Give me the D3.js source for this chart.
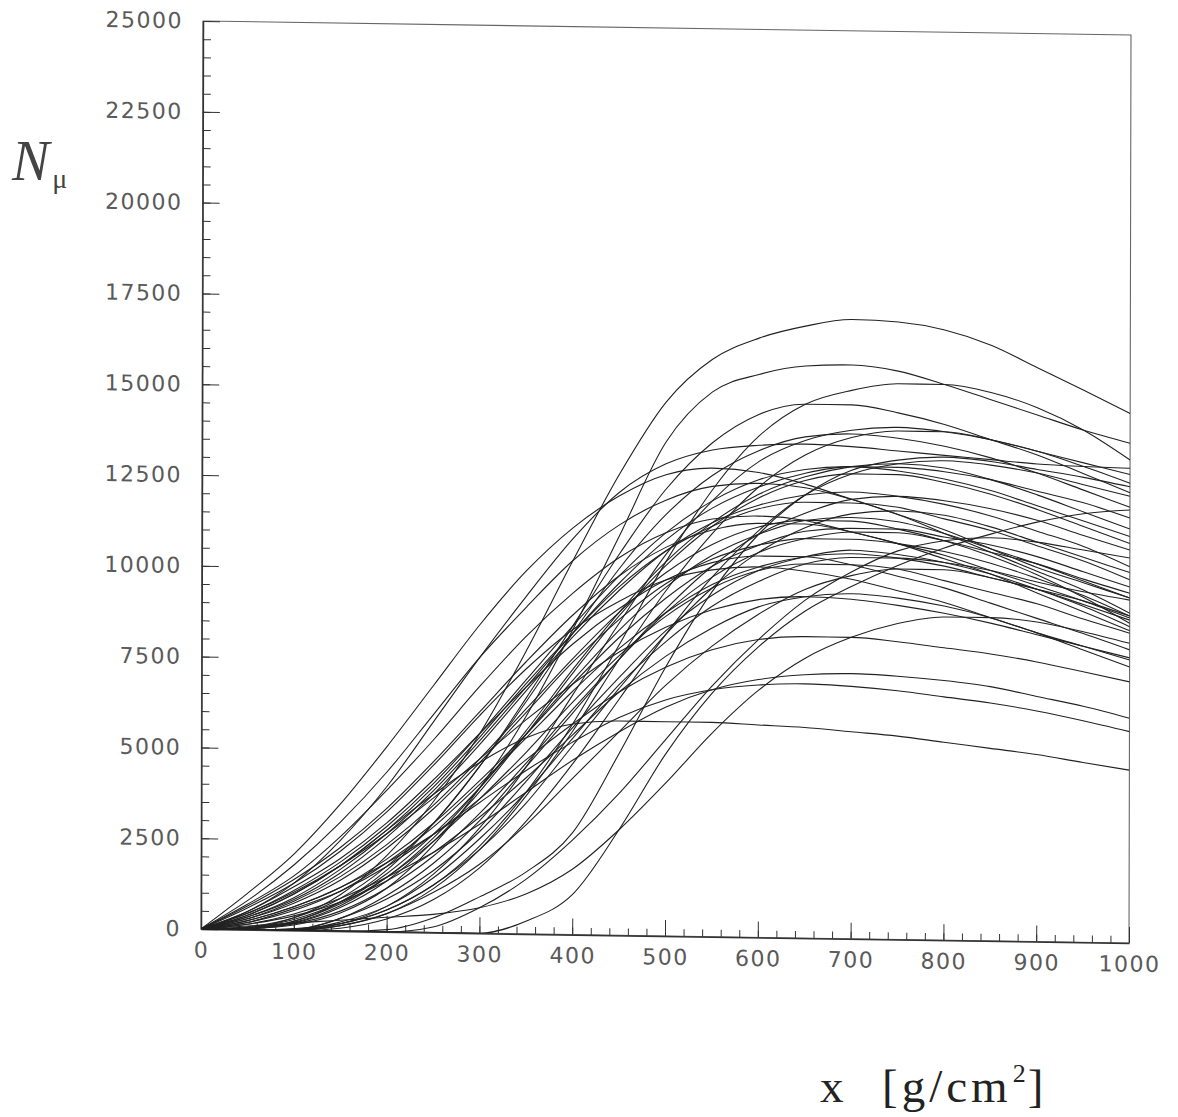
<!DOCTYPE html>
<html>
<head>
<meta charset="utf-8">
<style>
  body { margin: 0; background: #fff; }
  .tick text { font-family: "DejaVu Sans", sans-serif; font-size: 22px; fill: #5a5a5a; letter-spacing: 1.5px; }
  .axis path, .axis line { stroke: #333; }
</style>
</head>
<body>
<svg id="chart" width="1178" height="1117"></svg>
<script src="https://cdn.jsdelivr.net/npm/d3@7/dist/d3.min.js"></script>
<script>
// depth grid (g/cm^2) at which every shower is sampled
const depths = [0,50,100,150,200,250,300,350,400,450,500,550,600,650,700,750,800,850,900,950,1000];

// showers starting right at the origin with a steep rise
const earlyShowers = [
  [0,1000,2100,3500,5100,6800,8500,10000,11200,12100,12700,12900,12800,12500,12100,11700,11200,10700,10200,9700,9080],
  [0,800,1800,3000,4400,6000,7600,9000,10300,11300,12000,12400,12500,12400,12100,11700,11300,10800,10300,9900,9500],
  [0,700,1500,2600,3900,5300,6800,8200,9400,10400,11100,11500,11600,11500,11200,10900,10500,10100,9600,9100,8600],
  [0,600,1300,2200,3300,4600,6000,7300,8400,9200,9800,10100,10200,10100,9900,9600,9300,8900,8500,8050,7600],
  [0,650,1400,2300,3400,4700,6100,7500,8800,9900,10700,11200,11400,11400,11200,10900,10600,10200,9800,9400,8950],
  [0,450,1050,1800,2700,3700,4800,5900,6900,7800,8500,9000,9300,9400,9350,9200,9000,8750,8450,8150,7850],
  [0,500,1300,2500,4000,5800,7600,9300,10900,12200,13000,13400,13550,13600,13550,13450,13350,13250,13150,13100,13070]
];

// low-multiplicity showers
const lowShowers = [
  [0,400,1000,1800,2800,3800,4700,5400,5800,5900,5900,5900,5850,5800,5700,5600,5450,5300,5150,4950,4760],
  [0,250,650,1200,1900,2700,3600,4500,5300,6000,6500,6800,6950,7000,6950,6850,6700,6550,6350,6100,5820],
  [0,150,450,900,1500,2200,3000,3900,4800,5600,6300,6800,7100,7250,7300,7250,7150,7000,6750,6500,6190],
  [0,200,600,1100,1800,2700,3700,4800,5800,6700,7400,7900,8200,8300,8300,8200,8050,7900,7700,7450,7190]
];

// showers starting at the origin with a slower rise
const midShowers = [
  [0,400,1000,1800,2800,4000,5400,6900,8300,9600,10600,11300,11800,12000,12000,11900,11600,11300,10900,10500,10000],
  [0,350,850,1600,2600,3800,5200,6700,8200,9500,10600,11400,11900,12200,12300,12200,12000,11700,11300,10900,10360],
  [0,300,750,1400,2300,3400,4700,6100,7500,8700,9700,10400,10800,11000,11000,10900,10700,10400,10000,9550,9000],
  [0,450,1100,1900,2900,4100,5500,7000,8500,9900,11100,12000,12600,12900,13000,12900,12700,12400,12000,11600,11190],
  [0,250,650,1200,2000,3000,4200,5500,6900,8200,9300,10200,10800,11200,11300,11300,11100,10900,10600,10200,9800],
  [0,300,800,1500,2400,3500,4800,6200,7600,8900,10000,10800,11300,11500,11500,11300,11000,10600,10100,9500,8800],
  [0,200,550,1100,1900,2900,4100,5400,6700,7900,8900,9700,10200,10500,10600,10500,10300,10000,9700,9300,8890],
  [0,500,1200,2000,3000,4200,5500,6800,8000,9000,9800,10300,10500,10500,10300,10000,9700,9300,8900,8500,8070],
  [0,350,900,1700,2700,3900,5300,6800,8300,9700,10900,11800,12400,12800,13000,13000,12900,12700,12400,12100,11700],
  [0,150,400,800,1400,2200,3200,4300,5500,6700,7700,8500,9100,9400,9500,9400,9200,8900,8500,8150,7790],
  [0,60,300,800,1600,2700,4000,5500,7000,8400,9600,10500,11100,11500,11600,11500,11200,10800,10400,9950,9500],
  [0,100,200,300,400,500,700,1100,1800,2900,4200,5600,6800,7700,8300,8700,8900,8900,8800,8550,8250]
];

// showers that start deeper and climb steeply
const lateShowers = [
  [0,60,350,1000,2100,3600,5500,7800,10300,12700,14700,15900,16500,16850,17050,17000,16800,16400,15800,15200,14580],
  [0,30,150,500,1200,2400,4000,6000,8400,11000,13600,15000,15500,15750,15800,15650,15300,14900,14500,14100,13760],
  [0,0,50,200,600,1300,2400,3900,5800,8000,10300,12300,13800,14700,15100,15300,15300,15100,14700,14100,13300],
  [0,80,350,900,1800,3000,4600,6500,8500,10500,12300,13600,14400,14700,14700,14500,14200,13800,13400,12900,12400],
  [0,50,250,800,1700,3000,4600,6400,8300,10100,11600,12700,13400,13800,13900,13800,13600,13300,12900,12450,12000],
  [0,30,200,650,1400,2500,3900,5500,7200,8800,10200,11300,12100,12600,12800,12800,12600,12300,11900,11450,11000],
  [0,40,220,700,1500,2600,4000,5600,7300,8900,10300,11400,12200,12700,13000,13100,13000,12700,12300,11850,11400],
  [0,0,20,350,1000,1900,3100,4600,6100,7600,9000,10200,11100,11700,12100,12200,12100,11900,11600,11200,10820],
  [0,30,180,550,1200,2100,3300,4700,6200,7600,8900,9900,10600,11000,11200,11200,11000,10700,10400,10000,9630],
  [0,0,10,250,700,1500,2600,3900,5400,6900,8100,9100,9800,10300,10500,10500,10400,10200,9900,9650,9440],
  [0,0,0,200,600,1300,2300,3600,5200,6800,8300,9600,10600,11300,11700,11800,11700,11400,11000,10600,10200],
  [0,0,30,350,900,1700,2800,4200,5700,7100,8400,9400,10100,10500,10700,10600,10400,10100,9700,9250,8710],
  [0,40,250,750,1500,2500,3700,5000,6400,7700,8800,9600,10100,10300,10300,10200,9900,9600,9300,8900,8530],
  [0,0,0,150,500,1100,1900,3000,4300,5600,6900,8000,8900,9600,10000,10200,10200,10000,9700,9400,9000]
];

// showers with their first interaction well below the top
const deepShowers = [
  [0,0,20,200,700,1600,2900,4600,6600,8600,10500,12000,13100,13700,14000,14100,14000,13800,13500,13200,12900],
  [0,0,10,150,500,1200,2300,3800,5600,7600,9500,11100,12400,13300,13800,14000,14000,13800,13500,13100,12660],
  [0,0,0,80,350,900,1800,3100,4700,6500,8300,9900,11200,12200,12800,13100,13200,13100,12900,12600,12300],
  [0,0,0,0,60,400,1000,1700,2800,5000,7400,9500,11100,12200,12900,13200,13300,13200,13000,12800,12560],
  [0,0,0,0,0,0,0,350,1100,2900,5000,6700,8000,9000,9700,10300,10800,11200,11550,11800,11920],
  [0,0,0,0,0,150,700,1500,2600,3900,5400,6900,8200,9300,10100,10700,11000,11100,11000,10800,10600]
];

const xMajorTicks = d3.range(0, 1001, 100);
const xMinorTicks = d3.range(0, 1001, 20);
const yMajorTicks = d3.range(0, 25001, 2500);
const yMinorTicks = d3.range(0, 25001, 500);

const showers = [].concat(earlyShowers, lowShowers, midShowers, lateShowers, deepShowers);

const svg = d3.select("#chart");
const plotLeft = 201, plotRight = 1129, plotTop = 21, plotBottom = 929;

const x = d3.scaleLinear().domain([0, 1000]).range([plotLeft, plotRight]);
const y = d3.scaleLinear().domain([0, 25000]).range([plotBottom, plotTop]);

// the scanned frame is slightly sheared
const plot = svg.append("g")
  .attr("transform", "matrix(1,0.0151,-0.0022,1,2.04,-3.04)");

plot.append("defs").append("clipPath").attr("id", "clip")
  .append("rect").attr("x", plotLeft).attr("y", plotTop)
  .attr("width", plotRight - plotLeft).attr("height", plotBottom - plotTop);

// frame (top and right)
plot.append("rect")
  .attr("x", plotLeft).attr("y", plotTop)
  .attr("width", plotRight - plotLeft).attr("height", plotBottom - plotTop)
  .attr("fill", "none").attr("stroke", "#666").attr("stroke-width", 1.1);

// minor ticks
plot.append("g").attr("class", "axis")
  .attr("transform", `translate(0,${plotBottom})`)
  .call(d3.axisBottom(x).tickValues(xMinorTicks).tickSize(-7).tickFormat(""))
  .call(g => g.select(".domain").remove());
plot.append("g").attr("class", "axis")
  .attr("transform", `translate(${plotLeft},0)`)
  .call(d3.axisLeft(y).tickValues(yMinorTicks).tickSize(-8).tickFormat(""))
  .call(g => g.select(".domain").remove());

// major ticks + labels
plot.append("g").attr("class", "axis")
  .attr("transform", `translate(0,${plotBottom})`)
  .call(d3.axisBottom(x).tickValues(xMajorTicks).tickSize(-16).tickSizeOuter(0)
    .tickPadding(13).tickFormat(d3.format("d")))
  .call(g => g.select(".domain").attr("stroke-width", 1.5));
plot.append("g").attr("class", "axis")
  .attr("transform", `translate(${plotLeft},0)`)
  .call(d3.axisLeft(y).tickValues(yMajorTicks).tickSize(-17).tickSizeOuter(0)
    .tickPadding(20).tickFormat(d3.format("d")))
  .call(g => g.select(".domain").attr("stroke-width", 1.5));

const line = d3.line()
  .x((v, i) => x(depths[i]))
  .y(v => y(v))
  .curve(d3.curveMonotoneX);

plot.append("g").attr("clip-path", "url(#clip)")
  .selectAll("path.shower")
  .data(showers)
  .join("path")
  .attr("class", "shower")
  .attr("d", line)
  .attr("fill", "none")
  .attr("stroke", "#222")
  .attr("stroke-width", 1.1);

// y title N_mu
const yTitle = svg.append("text")
  .attr("x", 12).attr("y", 180)
  .attr("font-family", "'Liberation Serif', serif")
  .attr("fill", "#444");
yTitle.append("tspan").attr("font-style", "italic").attr("font-size", 56).text("N");
yTitle.append("tspan").attr("font-size", 28).attr("dx", 3).attr("dy", 8).text("μ");

// x title
const xTitle = svg.append("text")
  .attr("x", 820).attr("y", 1102)
  .attr("font-family", "'Liberation Serif', serif")
  .attr("font-size", 47)
  .attr("fill", "#222");
xTitle.append("tspan").text("x");
xTitle.append("tspan").attr("x", 882).attr("letter-spacing", 4).text("[g/cm");
xTitle.append("tspan").attr("font-size", 26).attr("dx", 1).attr("dy", -20).text("2");
xTitle.append("tspan").attr("dx", 2).attr("dy", 20).text("]");
</script>
</body>
</html>
